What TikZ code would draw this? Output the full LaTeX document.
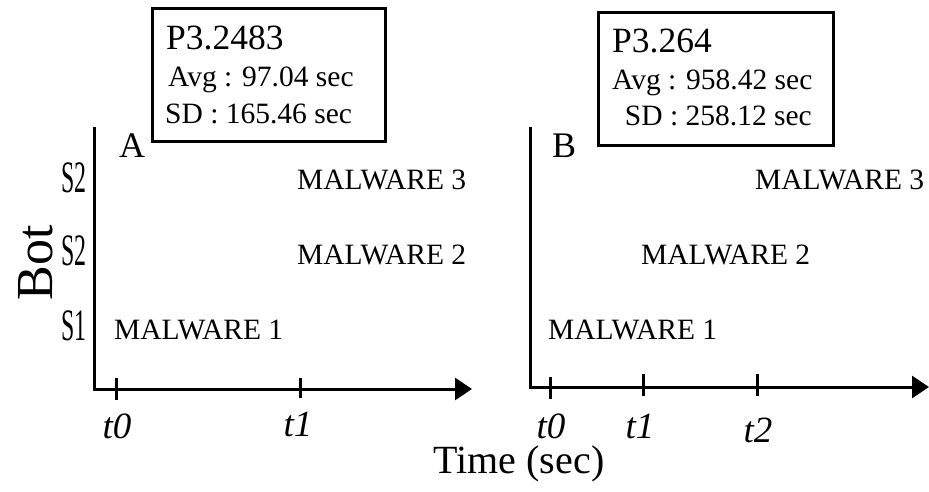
\documentclass[tikz,border=0pt]{standalone}
\usepackage{fontspec}
\setmainfont{Liberation Serif}
\usetikzlibrary{arrows.meta}
\begin{document}
\begin{tikzpicture}[x=1pt,y=-1pt,
  axis/.style={line width=3pt, line join=miter},
  tick/.style={line width=3pt},
  statbox/.style={draw, line width=3pt, inner sep=0pt},
  tlabel/.style={font=\fontsize{37}{37}\selectfont\itshape, anchor=base, inner sep=0pt},
  mal/.style={font=\fontsize{29.5}{30}\selectfont, anchor=base west, inner sep=0pt},
  bot/.style={font=\fontsize{45}{45}\selectfont, anchor=base east, inner sep=0pt},
  panel/.style={font=\fontsize{36}{36}\selectfont, anchor=base west, inner sep=0pt},
  stat/.style={font=\fontsize{29.5}{30}\selectfont, anchor=base west, inner sep=0pt},
  title/.style={font=\fontsize{35.5}{36}\selectfont, anchor=base west, inner sep=0pt},
  arr/.style={-{Triangle[length=17pt,width=22pt]}}
]
\useasboundingbox (0,0) rectangle (929,491);

% ---------- panel A ----------
\coordinate (Atop) at (94,127);
\coordinate (Aorig) at (94,389);
\coordinate (Aend) at (472,389);
\draw[axis,arr] (Atop) -- (Aorig) -- (Aend);
\coordinate (At0) at (116,389);
\coordinate (At1) at (300,389);
\draw[tick] ([yshift=-11pt]At0) -- ([yshift=11pt]At0);
\draw[tick] ([yshift=-9pt]At1) -- ([yshift=11pt]At1);
\node[tlabel] (lAt0) at (117,438) {t0};
\node[tlabel] (lAt1) at (298,436) {t1};

\node[bot] (As3) at (87,192) {\scalebox{0.53}[1]{S2}};
\node[bot] (As2) at (87,265) {\scalebox{0.53}[1]{S2}};
\node[bot] (As1) at (87,340) {\scalebox{0.53}[1]{S1}};

\node[mal] (Am3) at (297,189) {MALWARE 3};
\node[mal] (Am2) at (297,264) {MALWARE 2};
\node[mal] (Am1) at (114,339) {MALWARE 1};

\node[panel] (Alab) at (119,157) {A};

\draw[statbox] (152,8) rectangle (385,141);
\node[title] (Ap) at (166,49) {P3.2483};
\node[stat] (Aavg) at (168,86) {Avg : 97.04 sec};
\node[stat] (Asd) at (165,123) {SD : 165.46 sec};

% ---------- panel B ----------
\coordinate (Btop) at (530,127);
\coordinate (Borig) at (530,387);
\coordinate (Bend) at (929,387);
\draw[axis,arr] (Btop) -- (Borig) -- (Bend);
\coordinate (Bt0) at (550,387);
\coordinate (Bt1) at (643,387);
\coordinate (Bt2) at (757,387);
\draw[tick] ([yshift=-12pt]Bt0) -- ([yshift=10pt]Bt0);
\draw[tick] ([yshift=-9pt]Bt1) -- ([yshift=13pt]Bt1);
\draw[tick] ([yshift=-9pt]Bt2) -- ([yshift=13pt]Bt2);
\node[tlabel] (lBt0) at (551,438) {t0};
\node[tlabel] (lBt1) at (640,438) {t1};
\node[tlabel] (lBt2) at (758,442) {t2};

\node[mal] (Bm3) at (755,189) {MALWARE 3};
\node[mal] (Bm2) at (641,264) {MALWARE 2};
\node[mal] (Bm1) at (548,339) {MALWARE 1};

\node[panel] (Blab) at (552,157) {B};

\draw[statbox] (598,12) rectangle (833,145);
\node[title] (Bp) at (612,52) {P3.264};
\node[stat] (Bavg) at (612,89) {Avg : 958.42 sec};
\node[stat, anchor=base east] (Bsd) at (812,125) {SD : 258.12 sec};

% ---------- shared axis titles ----------
\node[font=\fontsize{52}{52}\selectfont, rotate=90, anchor=base, inner sep=0pt] (botlab) at (52,263) {Bot};
\node[font=\fontsize{40}{40}\selectfont, anchor=base, inner sep=0pt] (timelab) at (519,473) {Time (sec)};
\end{tikzpicture}
\end{document}
